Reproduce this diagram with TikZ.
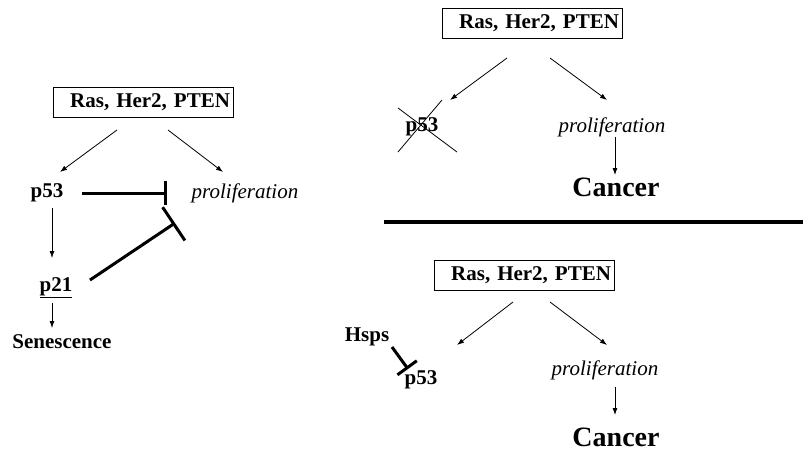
\documentclass[tikz,border=0pt]{standalone}
\usepackage{fontspec}
\setmainfont{Liberation Serif}
\usetikzlibrary{arrows.meta,calc}
\begin{document}
\begin{tikzpicture}[
        x=1pt, y=-1pt,
        font=\fontsize{21}{25}\selectfont\bfseries
    ]
    \tikzset{
        genebox/.style = {rectangle, draw=black, line width=0.8pt, minimum width=180pt, minimum height=30pt, text width=174pt, align=right, inner xsep=3pt, inner ysep=0pt},
        gene/.style = {inner sep=1pt},
        process/.style = {inner sep=1pt, font=\fontsize{21}{25}\selectfont\mdseries\itshape},
        outcome/.style = {inner sep=1pt, font=\fontsize{28}{32}\selectfont\bfseries},
        act/.style = {-{Latex[length=7pt,width=5pt]}, line width=0.8pt},
        inhibit/.style = {-{Bar[width=24pt]}, line width=3pt},
    }
    \useasboundingbox (0,0) rectangle (803,459);
    % left: normal cell
    \node[genebox] (lbox) at (143,102) {Ras, Her2, PTEN};
    \node[gene] (lp53) at (47,193) {p53};
    \node[process] (lprolif) at (245,193) {proliferation};
    \node[gene] (lp21) at (56,288) {\underline{p21}};
    \node[gene] (lsen) at (62,342) {Senescence};
    \draw[act] ($(lbox)+(-26,28)$) -- ($(lp53)+(13,-21)$);
    \draw[act] ($(lbox)+(25,28)$) -- ($(lprolif)+(-22,-21)$);
    \draw[inhibit] ($(lp53)+(35,0)$) -- ($(lprolif)+(-78,0)$);
    \draw[act] ($(lp53)+(5,15)$) -- ($(lp21)+(-4,-30)$);
    \draw[inhibit, -{Bar[width=40pt]}] ($(lp21)+(34,-8)$) -- ($(lprolif)+(-70,30)$);
    \draw[act] ($(lp21)+(-4,15)$) -- ($(lsen)+(-10,-14)$);
    % top right: p53 lost
    \node[genebox] (tbox) at (532,23) {Ras, Her2, PTEN};
    \node[gene] (tp53) at (422,127) {p53};
    \node[process] (tprolif) at (612,127) {proliferation};
    \node[outcome] (tcancer) at (616,187) {Cancer};
    \draw[act] ($(tbox)+(-25,35)$) -- ($(tp53)+(28,-27)$);
    \draw[act] ($(tbox)+(18,35)$) -- ($(tprolif)+(-5,-27)$);
    \draw[act] ($(tprolif)+(3,10)$) -- ($(tcancer)+(-1,-12)$);
    \draw[line width=0.8pt] ($(tp53)+(-24,-19)$) -- ($(tp53)+(35,25)$);
    \draw[line width=0.8pt] ($(tp53)+(-24,25)$) -- ($(tp53)+(20,-27)$);
    \draw[line width=4pt] (384,222) -- (803,222);
    % bottom right: p53 held by Hsps
    \node[genebox] (bbox) at (524,275) {Ras, Her2, PTEN};
    \node[gene] (bhsps) at (367,337) {Hsps};
    \node[gene] (bp53) at (421,380) {p53};
    \node[process] (bprolif) at (605,370) {proliferation};
    \node[outcome] (bcancer) at (616,437) {Cancer};
    \draw[act] ($(bbox)+(-11,27)$) -- ($(bp53)+(36,-35)$);
    \draw[act] ($(bbox)+(26,27)$) -- ($(bprolif)+(2,-25)$);
    \draw[act] ($(bprolif)+(10,17)$) -- ($(bcancer)+(-1,-22)$);
    \draw[inhibit] ($(bhsps)+(25,10)$) -- ($(bp53)+(-13,-11)$);
\end{tikzpicture}
\end{document}
